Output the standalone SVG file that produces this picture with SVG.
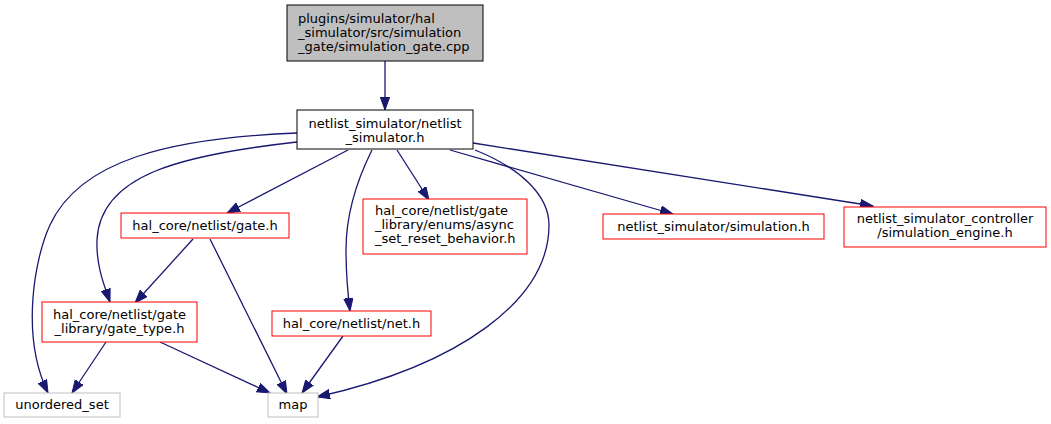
<svg xmlns="http://www.w3.org/2000/svg" width="1051" height="424" viewBox="0 0 1051 424">
<defs>
<style>
text{font-family:"DejaVu Sans","Liberation Sans",sans-serif;font-size:13px;fill:#000;text-anchor:middle}
text.l{text-anchor:start}
.n rect{fill:#fff;stroke:red;stroke-width:1}
.g rect{fill:#fff;stroke:#bfbfbf;stroke-width:1}
.e path{fill:none;stroke:#191970;stroke-width:1.3;marker-end:url(#ah)}
</style>
<marker id="ah" markerUnits="userSpaceOnUse" markerWidth="15" markerHeight="12" refX="13" refY="5" orient="auto">
<path d="M0,0.3 L13,5 L0,9.7 z" fill="#191970" stroke="#191970" stroke-width="1"/>
</marker>
</defs>
<rect width="1051" height="424" fill="#fff"/>
<g id="connectors" class="e">
<path d="M385,61 L385,110"/>
<path d="M348,150 L227,213"/>
<path d="M397,150 L429,200"/>
<path d="M372,150 C357,180 346,215 346,250 C346,275 348,295 350,311"/>
<path d="M475,150 C520,168 549,195 549,225 C549,300 460,365 317,397"/>
<path d="M450,150 L673,214"/>
<path d="M473,143 L873,206"/>
<path d="M297,142 C180,155 100,175 97,240 C96,265 104,285 110,302"/>
<path d="M297,133 C170,138 80,160 50,225 C35,257 20,335 48,393"/>
<path d="M193,239 L135,303"/>
<path d="M210,239 L287,394"/>
<path d="M106,342 L72,393"/>
<path d="M160,342 L270,393"/>
<path d="M343,336 L302,393"/>
</g>
<g id="node_top">
<rect x="287" y="5" width="196" height="56" fill="#bfbfbf" stroke="#000"/>
<text class="l" x="298" y="23">plugins/simulator/hal</text>
<text class="l" x="298" y="37">_simulator/src/simulation</text>
<text class="l" x="298" y="51">_gate/simulation_gate.cpp</text>
</g>
<g id="node_netlist_simulator">
<rect x="297" y="110" width="176" height="39" fill="#fff" stroke="#000"/>
<text x="385" y="127.5">netlist_simulator/netlist</text>
<text x="385" y="141.5">_simulator.h</text>
</g>
<g id="node_gate" class="n">
<rect x="121" y="213" width="168" height="25"/>
<text x="205" y="229.5">hal_core/netlist/gate.h</text>
</g>
<g id="node_async" class="n">
<rect x="363" y="199" width="164" height="55"/>
<text class="l" x="375" y="215">hal_core/netlist/gate</text>
<text class="l" x="375" y="229">_library/enums/async</text>
<text class="l" x="375" y="243">_set_reset_behavior.h</text>
</g>
<g id="node_simulation" class="n">
<rect x="603" y="214" width="221" height="25"/>
<text x="713.5" y="230.5">netlist_simulator/simulation.h</text>
</g>
<g id="node_engine" class="n">
<rect x="844" y="207" width="202" height="40"/>
<text x="945" y="223">netlist_simulator_controller</text>
<text x="945" y="237">/simulation_engine.h</text>
</g>
<g id="node_gate_type" class="n">
<rect x="42" y="302" width="155" height="40"/>
<text x="119.5" y="319">hal_core/netlist/gate</text>
<text x="119.5" y="333">_library/gate_type.h</text>
</g>
<g id="node_net" class="n">
<rect x="272" y="311" width="159" height="25"/>
<text x="351.5" y="327.5">hal_core/netlist/net.h</text>
</g>
<g id="node_unordered_set" class="g">
<rect x="4" y="393" width="116" height="24"/>
<text x="62" y="409">unordered_set</text>
</g>
<g id="node_map" class="g">
<rect x="268" y="393" width="50" height="24"/>
<text x="293" y="409">map</text>
</g>
</svg>
